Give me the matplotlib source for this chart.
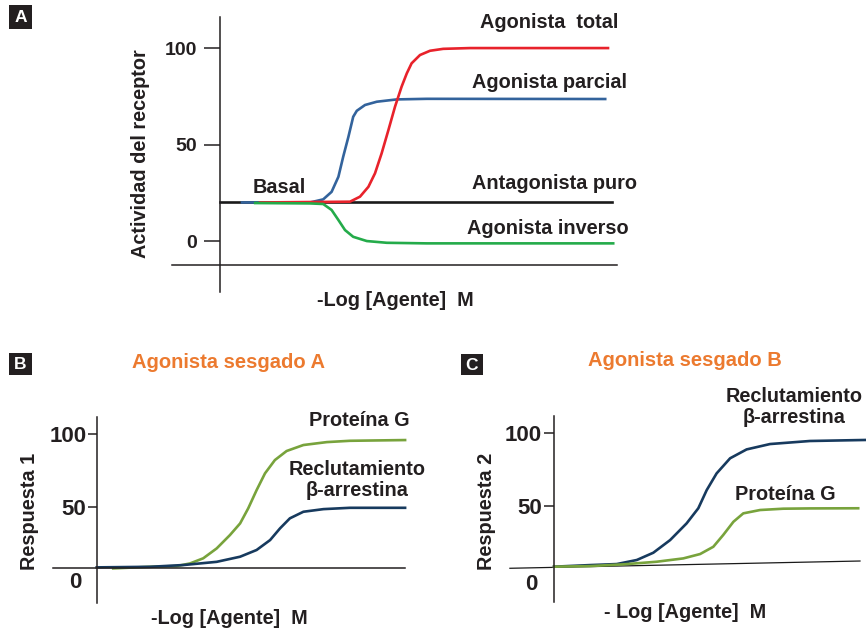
import matplotlib
matplotlib.use("Agg")
import matplotlib.pyplot as plt
from matplotlib.patches import Rectangle

plt.rcParams['font.family'] = ['Liberation Sans', 'DejaVu Sans']
plt.rcParams['font.weight'] = 'bold'

W, H = 866, 629

# ---- panel A data (x: arbitrary log units, y: receptor activity) ----
total_x = [1.0, 3.25, 3.5, 3.71, 3.875, 4.04, 4.21, 4.375, 4.54, 4.67, 4.79,
           5.0, 5.25, 5.58, 6.25, 9.7]
total_y = [20, 20.4, 23, 28.1, 35.1, 45.4, 57.5, 69.6, 80, 86.9, 92.1,
           96.4, 98.6, 99.6, 100, 100]
parcial_x = [0.55, 2.25, 2.58, 2.79, 2.96, 3.08, 3.21, 3.33, 3.42, 3.625,
             3.92, 4.42, 5.17, 9.63]
parcial_y = [20, 20.0, 21.6, 25.5, 33.3, 43.7, 54, 64.4, 67.5, 70.5,
             72.2, 73.4, 73.7, 73.6]
inverso_x = [0.88, 2.25, 2.58, 2.79, 2.96, 3.125, 3.33, 3.67, 4.17, 5.17, 9.83]
inverso_y = [19.7, 19.5, 19.2, 16.1, 10.9, 5.7, 2.2, 0, -0.9, -1.2, -1.2]
antag_x = [0, 9.8]
antag_y = [20, 20]
ticks_a = [0, 50, 100]

# ---- panel B ----
b_protg_x = [0.55, 1.78, 2.67, 3.11, 3.55, 4.0, 4.44, 4.78, 5.05, 5.33, 5.61,
             5.94, 6.33, 6.89, 7.67, 8.44, 10.28]
b_protg_y = [8.2, 9.3, 9.8, 11.6, 15.1, 21.9, 31, 39, 49.3, 61.8, 73.3,
             82.4, 88.6, 92.7, 94.7, 95.6, 96.1]
b_arr_x = [0, 1.78, 2.89, 4.0, 4.78, 5.33, 5.78, 6.11, 6.44, 6.89, 7.56,
           8.44, 10.28]
b_arr_y = [8.9, 9.3, 10.5, 12.7, 16.2, 20.8, 27.6, 35.6, 42.5, 47, 48.8,
           49.7, 49.7]

# ---- panel C ----
c_arr_x = [0, 1.2, 2.09, 2.76, 3.31, 3.87, 4.42, 4.81, 5.09, 5.42, 5.87,
           6.42, 7.2, 8.53, 10.37]
c_arr_y = [8.3, 9.4, 10.1, 12.9, 17.9, 26.6, 38.1, 48.5, 61, 72.5, 82.9,
           89, 92.7, 94.8, 95.5]
c_protg_x = [0, 1.2, 2.31, 3.42, 4.31, 4.87, 5.31, 5.64, 5.98, 6.31, 6.87,
             7.64, 8.53, 10.14]
c_protg_y = [8.3, 8.7, 9.9, 11.7, 14, 17, 22, 30.1, 39.2, 45, 47.3,
             48.2, 48.4, 48.5]
c_base_x = [-1.47, 10.2]
c_base_y = [7.2, 12.2]
ticks_bc = [50, 100]

RED = '#e8222b'
BLUE = '#33639c'
GREEN = '#24ab4a'
OLIVE = '#78a33c'
NAVY = '#173a5e'
ORANGE = '#ec7a2f'
TXT = '#231f20'
FS = 14.3

fig = plt.figure(figsize=(W / 100, H / 100), dpi=100)


def box(x0, y0, x1, y1):
    return [x0 / W, 1 - y1 / H, (x1 - x0) / W, (y1 - y0) / H]


def ftext(px, py, s, **kw):
    kw.setdefault('color', TXT)
    kw.setdefault('ha', 'center')
    kw.setdefault('va', 'center')
    kw.setdefault('fontweight', 'bold')
    kw.setdefault('fontsize', FS)
    fig.text(px / W, 1 - py / H, s, **kw)


def panel_letter(x0, y0, x1, y1, s):
    fig.patches.append(Rectangle((x0 / W, 1 - y1 / H), (x1 - x0) / W,
                                 (y1 - y0) / H, transform=fig.transFigure,
                                 fc=TXT, ec='none'))
    ftext((x0 + x1) / 2, (y0 + y1) / 2 + 0.5, s, color='white', fontsize=12.5)


def style(ax, ybottom, size, tlen, pad):
    for s in ['top', 'right']:
        ax.spines[s].set_visible(False)
    ax.spines['left'].set_position(('data', 0))
    ax.spines['bottom'].set_position(('data', ybottom))
    for s in ['left', 'bottom']:
        ax.spines[s].set_color(TXT)
        ax.spines[s].set_linewidth(1.1)
    ax.set_xticks([])
    ax.tick_params(axis='y', length=tlen, width=1.1, color=TXT,
                   labelsize=size, pad=pad, labelcolor=TXT)
    for lab in ax.get_yticklabels():
        lab.set_fontweight('bold')
    ax.patch.set_visible(False)


# ================= A =================
axA = fig.add_axes(box(172, 17, 617, 292))
axA.set_xlim(-1.2, 9.925)
axA.set_ylim(-26.4, 116.1)
axA.plot(antag_x, antag_y, color='#1a1a1a', lw=1.9, clip_on=False)
axA.plot(parcial_x, parcial_y, color=BLUE, lw=1.9, clip_on=False)
axA.plot(total_x, total_y, color=RED, lw=1.9, clip_on=False)
axA.plot(inverso_x, inverso_y, color=GREEN, lw=1.9, clip_on=False)
axA.set_yticks(ticks_a)
axA.set_yticklabels([str(t) for t in ticks_a])
style(axA, -12.4, 14, 11.5, 5)

ftext(140, 154, 'Actividad del receptor', rotation=90)
ftext(395, 300, '-Log [Agente]  M')
ftext(549, 22, 'Agonista  total')
ftext(550, 82, 'Agonista parcial')
ftext(554, 184, 'Antagonista puro')
ftext(548, 229, 'Agonista inverso')
ftext(279, 187, 'Basal')
panel_letter(9, 5, 32, 29, 'A')

# ================= B =================
axB = fig.add_axes(box(53, 416.7, 405, 603))
axB.set_xlim(-1.457, 10.277)
axB.set_ylim(-15.5, 112.1)
axB.plot(b_protg_x, b_protg_y, color=OLIVE, lw=1.9, clip_on=False)
axB.plot(b_arr_x, b_arr_y, color=NAVY, lw=1.9, clip_on=False)
axB.set_yticks(ticks_bc)
axB.set_yticklabels([str(t) for t in ticks_bc])
style(axB, 8.6, 16, 6.5, 1)
axB.text(-0.7, -1.5, '0', ha='center', va='center', fontsize=16,
         fontweight='bold', color=TXT)

ftext(30, 511, 'Respuesta 1', rotation=90)
ftext(229, 618, '-Log [Agente]  M')
ftext(229, 363, 'Agonista sesgado A', color=ORANGE, fontsize=14.5)
ftext(359, 420, 'Proteína G')
ftext(357, 480, 'Reclutamiento\nβ-arrestina', linespacing=1.1)
panel_letter(9, 353, 32, 375, 'B')

# ================= C =================
axC = fig.add_axes(box(510, 416, 866, 601.7))
axC.set_xlim(-1.467, 10.4)
axC.set_ylim(-15.8, 112)
axC.plot(c_base_x, c_base_y, color='#1a1a1a', lw=0.9, clip_on=False)
axC.plot(c_arr_x, c_arr_y, color=NAVY, lw=1.9, clip_on=False)
axC.plot(c_protg_x, c_protg_y, color=OLIVE, lw=1.9, clip_on=False)
axC.set_yticks(ticks_bc)
axC.set_yticklabels([str(t) for t in ticks_bc])
style(axC, 0, 16, 7.5, 1)
axC.spines['bottom'].set_visible(False)
axC.text(-0.77, -4.3, '0', ha='center', va='center', fontsize=16,
         fontweight='bold', color=TXT)

ftext(487, 511, 'Respuesta 2', rotation=90)
ftext(685, 613, '- Log [Agente]  M')
ftext(685, 360, 'Agonista sesgado B', color=ORANGE, fontsize=14.5)
ftext(794, 407, 'Reclutamiento\nβ-arrestina', linespacing=1.1)
ftext(785, 495, 'Proteína G')
panel_letter(461, 354, 483, 375, 'C')

fig.savefig('out.png', dpi=100)
